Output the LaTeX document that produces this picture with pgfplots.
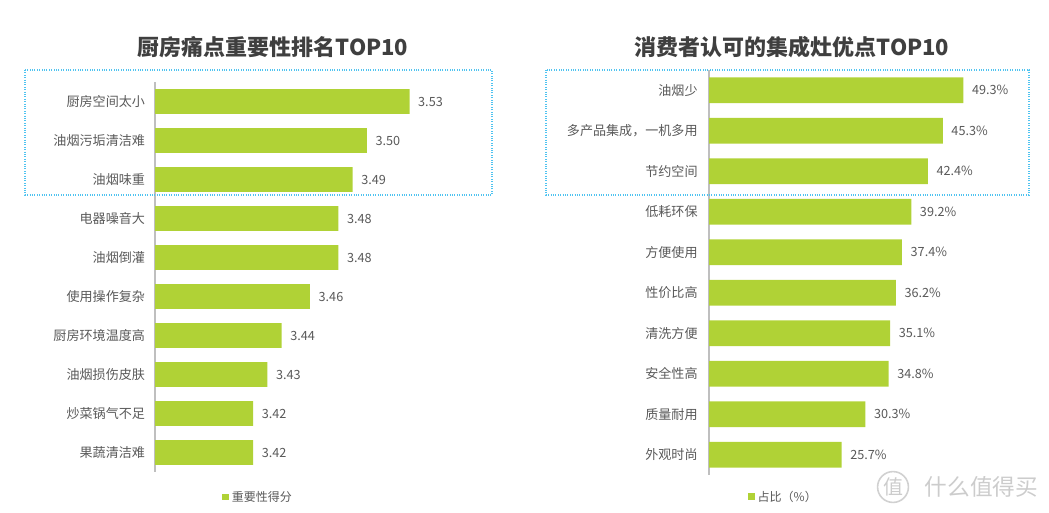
\documentclass[border=0pt]{standalone}
\usepackage{pgfplots}
\pgfplotsset{compat=1.18}
\usepackage{fontspec}
\setmainfont{Noto Sans CJK SC}
\definecolor{barG}{HTML}{B0D236}
\definecolor{txt}{HTML}{595959}
\definecolor{ttl}{HTML}{3F3F3F}
\definecolor{boxB}{HTML}{4FC3F0}
\definecolor{axG}{HTML}{BFBFBF}
\pgfplotsset{
  mybar/.style={
    scale only axis, anchor=south west,
    xbar, bar width=0.64,
    y dir=reverse, ymin=-0.5, ymax=9.5, ytick={0,...,9},
    axis x line=none, axis y line=left,
    y axis line style={-, axG, line width=1.6pt},
    major tick length=0pt,
    yticklabel style={font=\fontsize{9.8pt}{11pt}\selectfont, text=txt},
    nodes near coords style={font=\fontsize{9.5pt}{11pt}\selectfont, text=txt, anchor=west, xshift=3pt},
    legend style={draw=none, fill=none, font=\fontsize{9pt}{11pt}\selectfont, text=txt, inner sep=0pt},
    legend image code/.code={\fill[barG] (0pt,-2.6pt) rectangle (5.2pt,2.6pt);},
  }
}
\begin{document}
\begin{tikzpicture}[x=0.75pt,y=-0.75pt]
\path[use as bounding box] (0,0) rectangle (1049,512);
\node[font=\fontsize{16.5pt}{19pt}\selectfont\bfseries, text=ttl] at (273,47) {厨房痛点重要性排名TOP10};
\node[font=\fontsize{16.5pt}{19pt}\selectfont\bfseries, text=ttl] at (792,47) {消费者认可的集成灶优点TOP10};
\begin{axis}[mybar,
  at={(116.25pt,-354pt)}, width=225pt, height=292.5pt,
  xmin=3.351, xmax=3.562,
  yticklabel style={xshift=-4pt},
  yticklabels={厨房空间太小,油烟污垢清洁难,油烟味重,电器噪音大,油烟倒灌,使用操作复杂,厨房环境温度高,油烟损伤皮肤,炒菜锅气不足,果蔬清洁难},
  nodes near coords={\pgfmathprintnumber[fixed,fixed zerofill,precision=2,assume math mode=true]{\pgfplotspointmeta}},
  legend style={at={(0.223,-0.064)}, anchor=west},
]
\addplot[fill=barG, draw=none] coordinates {(3.53,0) (3.50,1) (3.49,2) (3.48,3) (3.48,4) (3.46,5) (3.44,6) (3.43,7) (3.42,8) (3.42,9)};
\addlegendentry{重要性得分}
\end{axis}
\begin{axis}[mybar,
  at={(531.75pt,-356.25pt)}, width=229.5pt, height=303.75pt,
  xmin=0, xmax=59.3,
  yticklabel style={xshift=-5pt},
  yticklabels={油烟少,{多产品集成，一机多用},节约空间,低耗环保,方便使用,性价比高,清洗方便,安全性高,质量耐用,外观时尚},
  nodes near coords={\pgfmathprintnumber[fixed,fixed zerofill,precision=1,assume math mode=true]{\pgfplotspointmeta}\%},
  legend style={at={(0.127,-0.054)}, anchor=west},
]
\addplot[fill=barG, draw=none] coordinates {(49.3,0) (45.3,1) (42.4,2) (39.2,3) (37.4,4) (36.2,5) (35.1,6) (34.8,7) (30.3,8) (25.7,9)};
\addlegendentry{占比（\%）}
\end{axis}
\draw[boxB, densely dotted, line width=0.8pt] (25,70) rectangle (492,195);
\draw[boxB, densely dotted, line width=0.8pt] (546,70) rectangle (1029,195);
\node[draw=black!18, circle, line width=1.2pt, inner sep=1pt, text=black!20, font=\fontsize{15pt}{17pt}\selectfont] at (893,487) {值};
\node[anchor=west, text=black!20, font=\fontsize{17pt}{19pt}\selectfont] at (920,487) {什么值得买};
\end{tikzpicture}
\end{document}
